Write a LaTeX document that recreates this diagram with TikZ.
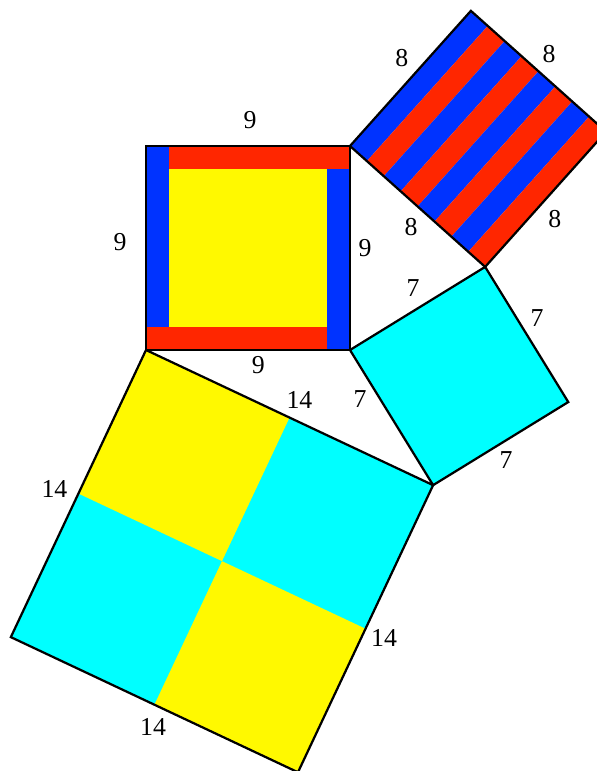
\documentclass[tikz,border=0pt]{standalone}
\usepackage{fontspec}
\setmainfont{Liberation Serif}
\usetikzlibrary{calc}

\definecolor{sqblue}{HTML}{0033FF}
\definecolor{sqred}{HTML}{FF2600}
\definecolor{sqyellow}{HTML}{FFF900}
\definecolor{sqcyan}{HTML}{00FFFF}

\begin{document}
\begin{tikzpicture}[x=0.5cm, y=0.5cm,
  edge/.style={line width=1.4pt, line join=miter},
  lbl/.style={font=\fontsize{16.2}{19}\selectfont, inner sep=0pt}]
\useasboundingbox (-6.441,-18.573) rectangle (19.897,15.441);
\clip (-6.441,-18.573) rectangle (19.897,15.441);

% vertices
\coordinate (A) at (0,0);
\coordinate (B) at (9,0);
\coordinate (C) at (9,9);
\coordinate (D) at (0,9);
\coordinate (E) at (14.9628,3.6667);
\coordinate (P) at ($(C)!1!90:(E)$);
\coordinate (Q) at ($(E)!1!-90:(C)$);
\coordinate (R) at ($(E)!1!90:(B)$);
\coordinate (F) at ($(B)!1!-90:(E)$);
\coordinate (S) at ($(F)!1!90:(A)$);
\coordinate (T) at ($(A)!1!-90:(F)$);
\coordinate (O) at ($(A)!0.5!(S)$);

% square 9
\fill[sqyellow] (1,1) rectangle (8,8);
\fill[sqblue] (0,1) rectangle (1,9);
\fill[sqred] (1,8) rectangle (9,9);
\fill[sqblue] (8,0) rectangle (9,8);
\fill[sqred] (0,0) rectangle (8,1);

% square 8
\foreach \k in {0,...,7}{
  \pgfmathparse{mod(\k,2)==0 ? "sqblue" : "sqred"}
  \edef\stripecol{\pgfmathresult}
  \fill[\stripecol] ($(C)!\k/8!(E)$) -- ($(C)!\k/8+1/8!(E)$)
    -- ($(P)!\k/8+1/8!(Q)$) -- ($(P)!\k/8!(Q)$) -- cycle;
}

% square 7
\fill[sqcyan] (B) -- (E) -- (R) -- (F) -- cycle;

% square 14
\fill[sqcyan] (A) -- (F) -- (S) -- (T) -- cycle;
\fill[sqyellow] (A) -- ($(A)!0.5!(F)$) -- (O) -- ($(A)!0.5!(T)$) -- cycle;
\fill[sqyellow] (S) -- ($(S)!0.5!(F)$) -- (O) -- ($(S)!0.5!(T)$) -- cycle;

% outlines
\draw[edge] (A) -- (B) -- (C) -- (D) -- cycle;
\draw[edge] (C) -- (P) -- (Q) -- (E) -- cycle;
\draw[edge] (B) -- (E) -- (R) -- (F) -- cycle;
\draw[edge] (A) -- (F) -- (S) -- (T) -- cycle;

% labels
\node[lbl] (l9a) at (4.588,10.147) {9};
\node[lbl] (l9b) at (-1.147,4.765) {9};
\node[lbl] (l9c) at (9.662,4.5) {9};
\node[lbl] (l9d) at (4.956,-0.662) {9};
\node[lbl] (l8a) at (11.29,12.86) {8};
\node[lbl] (l8b) at (17.78,13.06) {8};
\node[lbl] (l8c) at (11.69,5.43) {8};
\node[lbl] (l8d) at (18.04,5.78) {8};
\node[lbl] (l7a) at (11.78,2.74) {7};
\node[lbl] (l7b) at (17.25,1.41) {7};
\node[lbl] (l7c) at (15.88,-4.85) {7};
\node[lbl] (l7d) at (9.44,-2.16) {7};
\node[lbl] (l14a) at (6.77,-2.21) {14};
\node[lbl] (l14b) at (-4.04,-6.13) {14};
\node[lbl] (l14c) at (10.50,-12.71) {14};
\node[lbl] (l14d) at (0.31,-16.63) {14};
\end{tikzpicture}
\end{document}
